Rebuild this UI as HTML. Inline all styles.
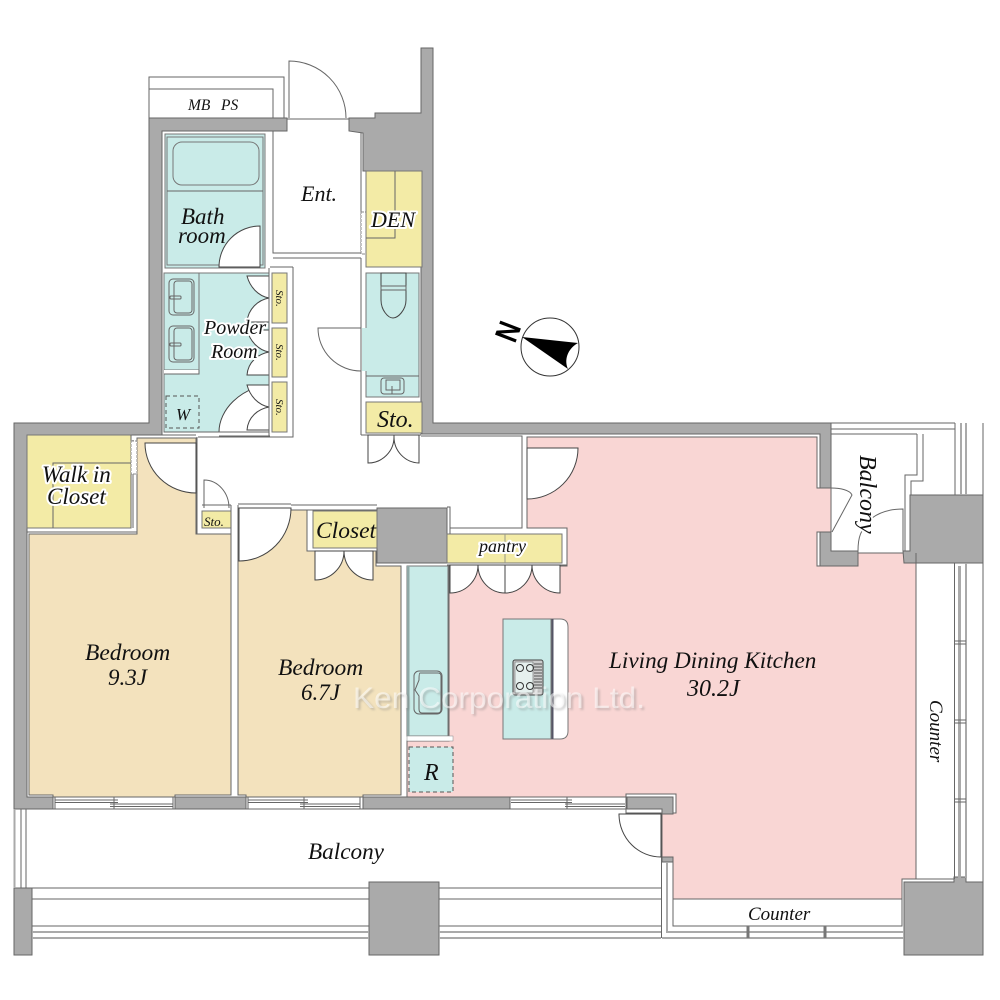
<!DOCTYPE html>
<html><head><meta charset="utf-8"><style>
html,body{margin:0;padding:0;background:#fff}
svg{display:block}
text{font-family:"Liberation Serif",serif;font-style:italic;fill:#111}
.h{paint-order:stroke;stroke:#fff;stroke-width:4px;stroke-linejoin:round}
.w{fill:#aaaaaa;stroke:#666;stroke-width:1}
.l{fill:none;stroke:#666;stroke-width:1}
.d{fill:#fff;stroke:#444;stroke-width:1}
.g{fill:none;stroke:#aaa;stroke-width:2}
.t{fill:#c9ebe8;stroke:#777;stroke-width:1}
.y{fill:#f3eba6;stroke:#777;stroke-width:1}
.m{font-family:"Liberation Sans",sans-serif;font-style:normal}
</style></head><body>
<svg width="1000" height="1000" viewBox="0 0 1000 1000" xmlns="http://www.w3.org/2000/svg">
<defs><filter id="b" x="-5%" y="-30%" width="110%" height="160%"><feGaussianBlur stdDeviation="1"/></filter></defs>
<rect width="1000" height="1000" fill="#fff"/>

<!-- room fills -->
<polygon points="527,437 817,437 817,488 831,488 831,532 817,532 817,566 858,566 858,553 916,553 916,879 902,879 902,899 673,899 673,857 662,857 662,813 676,813 676,795 626,795 626,797 407,797 407,741 449,741 449,566 567,566 567,528 527,528" fill="#f9d6d4" stroke="#666" stroke-width="1"/>
<polygon points="29,534 137,534 137,438 196,438 196,534 231,534 231,795 175,795 175,797 53,797 53,795 29,795" fill="#f3e2bd" stroke="#666" stroke-width="1"/>
<polygon points="238,508 291,508 291,510 307,510 307,551 376,551 376,566 401,566 401,795 363,795 363,797 246,797 246,795 238,795" fill="#f3e2bd" stroke="#666" stroke-width="1"/>

<!-- walls -->
<polygon class="w" points="149,118 287,118 287,131 162,131 162,435 27,435 27,797 53,797 53,809 14,809 14,423 149,423"/>
<polygon class="w" points="349,118 375,118 375,113 421,113 421,48 433,48 433,423 831,423 831,488 820,488 820,434 421,434 421,171 363,171 363,133 349,131"/>
<polygon class="w" points="820,532 831,532 831,551 858,551 858,566 820,566"/>
<rect class="w" x="175" y="797" width="71" height="12"/>
<rect class="w" x="363" y="797" width="147" height="12"/>
<rect x="626" y="794" width="50" height="19" fill="#fff" stroke="#666"/>
<polygon class="w" points="627,797 673,797 673,814 662,814 662,809 627,809"/>
<rect class="w" x="377" y="508" width="70" height="55"/>
<rect class="w" x="14" y="888" width="18" height="67"/>
<rect class="w" x="369" y="882" width="70" height="73"/>
<polygon class="w" points="910,495 983,495 983,563 904,563 903,551 910,551"/>
<polygon class="w" points="904,882 954,882 954,877 966,877 966,882 983,882 983,955 904,955"/>

<!-- MB PS -->
<polyline class="l" points="149,118 149,77 284,77 284,118"/>
<polyline class="l" points="149,89 273,89 273,118"/>

<!-- entrance -->
<path class="l" d="M289,118V61A57,57 0 0 1 346,118"/>
<path class="l" d="M287,119H349M273,131V253H361M273,258H361M287,131H273"/>
<path class="l" d="M361,133V253M361,258V435"/>
<rect x="361" y="212" width="5" height="42" fill="#fff" stroke="#888" stroke-dasharray="3 1"/>
<path class="l" d="M361,258V267M293,267V437H198M270,267H293M361,435H421"/>

<!-- bath -->
<rect class="t" x="165" y="134" width="100" height="134"/>
<rect class="t" x="167" y="137" width="96" height="128"/>
<rect class="t" x="173" y="142" width="86" height="43" rx="9"/>
<path class="l" d="M167,191H263"/>
<path class="d" d="M260,226A41,41 0 0 0 219,267H260Z"/>

<!-- powder -->
<rect class="t" x="164" y="273" width="105" height="159"/>
<rect class="t" x="164" y="273" width="35" height="97"/>
<rect x="164" y="370" width="35" height="4" fill="#fff"/>
<path class="l" d="M164,374H199V370"/>
<rect class="l" x="169" y="279" width="25" height="36" rx="4"/>
<rect class="l" x="174" y="281" width="18" height="32" rx="3"/>
<rect class="l" x="170" y="296" width="11" height="3" rx="1"/>
<rect class="l" x="169" y="326" width="25" height="36" rx="4"/>
<rect class="l" x="174" y="328" width="18" height="32" rx="3"/>
<rect class="l" x="170" y="343" width="11" height="3" rx="1"/>
<rect x="166" y="396" width="33" height="32" fill="none" stroke="#555" stroke-dasharray="4 3"/>
<path class="d" d="M269,385C240,388 219,410 219,432H269Z"/>
<path class="d" d="M247,276C250,287 258,296 269,298L269,276Z"/>
<path class="d" d="M247,322C248,309 258,300 269,298L269,322Z"/>
<path class="d" d="M247,330C250,341 258,350 269,352L269,330Z"/>
<path class="d" d="M247,375C248,362 258,354 269,352L269,375Z"/>
<path class="d" d="M247,385C250,396 258,405 269,407L269,385Z"/>
<path class="d" d="M247,430C248,417 258,409 269,407L269,430Z"/>
<rect class="y" x="272" y="273" width="15" height="50"/>
<rect class="y" x="272" y="328" width="15" height="49"/>
<rect class="y" x="272" y="382" width="15" height="50"/>
<path class="l" d="M269,268V436M219,436H270M164,432H269"/>

<!-- den -->
<rect class="y" x="366" y="171" width="56" height="96"/>
<path class="l" d="M395,171V238H366"/>

<!-- toilet -->
<rect class="t" x="366" y="273" width="53" height="124"/>
<rect x="362" y="328" width="5" height="43" fill="#c9ebe8"/>
<path class="l" d="M366,376H419"/>
<path class="d" style="fill:#c9ebe8" d="M381,273H406V300C406,310 398,318 393,318C388,318 381,310 381,300Z"/>
<rect class="l" x="381" y="286" width="25" height="4"/>
<rect class="l" x="381" y="378" width="23" height="16" rx="3"/>
<rect class="l" x="386" y="380" width="14" height="10"/>
<path class="l" d="M392,386V394"/>
<path class="l" d="M361,328H318A43,43 0 0 0 361,371"/>

<!-- sto -->
<rect class="y" x="366" y="402" width="56" height="31"/>
<path class="d" d="M368,435V463A26,26 0 0 0 394,437V435Z"/>
<path class="d" d="M419,435V463A26,26 0 0 1 394,437V435Z"/>

<!-- walk in closet -->
<rect class="y" x="27" y="435" width="104" height="93"/>
<path class="l" d="M53,528V463H131"/>
<path class="l" d="M27,532H137M131,435V528M137,435H196M197,437V534M133,440V528"/>
<rect x="131" y="441" width="6" height="33" fill="#fff" stroke="#888" stroke-dasharray="3 1"/>
<path class="d" d="M145,443H196V493A51,50 0 0 1 145,443Z"/>

<!-- small sto -->
<rect class="y" x="202" y="511" width="29" height="17"/>
<path class="l" d="M204,508V480A25,28 0 0 1 229,508"/>
<path class="l" d="M196,534H231M202,505H231M238,505V795M231,505V534M238,504H291"/>

<!-- bed 2 door -->
<path class="d" d="M239,508H291A52,53 0 0 1 239,561Z"/>
<path class="l" d="M291,505H377M307,510H377"/>

<!-- closet -->
<rect class="y" x="313" y="511" width="64" height="37"/>
<path class="d" d="M315,551V580A29,29 0 0 0 344,551Z"/>
<path class="d" d="M373,551V580A29,29 0 0 1 344,551Z"/>

<!-- hall upper -->
<path class="l" d="M421,436H522V528H450V507H447M522,437V447M522,500V528M527,500V528"/>
<path class="d" d="M527,448H578A51,51 0 0 1 527,499Z"/>

<!-- pantry -->
<rect class="y" x="447" y="534" width="115" height="29"/>
<path d="M505,534V563" stroke="#998" stroke-width="1"/>
<path class="l" d="M450,528V534M447,565H567"/>
<path class="d" d="M450,565V593A28,28 0 0 0 478,565Z"/>
<path class="d" d="M505,593A27,28 0 0 1 478,565H505Z"/>
<path class="d" d="M505,593A27,28 0 0 0 532,565H505Z"/>
<path class="d" d="M560,565V593A28,28 0 0 1 532,565Z"/>

<!-- kitchen -->
<rect class="t" x="407" y="566" width="41" height="170"/>
<rect x="407" y="566" width="2.500" height="170" fill="#8fa7a5"/>
<rect x="407" y="736" width="46" height="5" fill="#fff" stroke="#888" stroke-width="0.500"/>
<rect x="414" y="671" width="28" height="43" rx="5" class="l"/>
<path class="l" d="M420,673H438Q441,673 441,676V709Q441,713 438,713H422Q419,713 419,709V696L415,690L419,680Q419,673 420,673Z"/>
<rect x="409" y="747" width="44" height="45" fill="#c9ebe8" stroke="#555" stroke-dasharray="4 3"/>
<path d="M503,619H560Q568,619 568,627V731Q568,739 560,739H503Z" fill="#fff" stroke="#777"/>
<rect x="503" y="619" width="48" height="120" fill="#c9ebe8" stroke="#777"/>
<path d="M552.500,619V739" stroke="#556" stroke-width="2"/>
<rect x="513" y="660" width="30" height="35" rx="2" fill="#ccc" stroke="#444"/>
<rect x="515" y="662" width="18" height="31" fill="#e6f0ee" stroke="#555" stroke-width=".5"/>
<g fill="none" stroke="#333"><circle cx="520" cy="668" r="3.500"/><circle cx="530" cy="668" r="3.500"/><circle cx="520" cy="686" r="3.500"/><circle cx="530" cy="686" r="3.500"/></g>
<path d="M534,664H542M534,667H542M534,670H542M534,673H542M534,676H542M534,679H542M534,682H542M534,685H542M534,688H542" stroke="#555"/>

<!-- bottom windows -->
<path class="l" d="M53,809H175M246,809H363M510,809H662"/>
<path class="l" d="M55,800H118M55,802.500H118M110,804H173M110,806.500H173M114,797V809M173,797V809M248,800H308M248,802.500H308M300,804H360M300,806.500H360M304,797V809M360,797V809M248,797V809M55,797V809"/>
<path class="l" d="M511,800H572M511,802.500H572M565,804H625M565,806.500H625M567,797V809"/>

<!-- balcony rails -->
<path class="g" d="M14.500,809V888"/>
<path class="l" d="M21,809V888M26,809V888"/>
<path class="l" d="M32,888H369M32,899H369M32,926H369M439,888H661M439,899H661M439,926H661"/>
<path class="g" d="M32,932H369M32,938H369M439,932H661M439,938H661"/>
<path class="l" d="M661.500,813V938"/>
<path class="d" d="M619,814V815A42,43 0 0 0 661,857V814Z"/>
<rect x="662" y="857" width="11" height="5" fill="#aaa" stroke="#666"/>

<!-- counter bottom -->
<path class="g" d="M667,862V932H904"/>
<path class="l" d="M673,862V926H902V879H954"/>
<path class="g" d="M662,938H904"/>
<path d="M748,926V938M825,926V938" stroke="#777" stroke-width="3"/>

<!-- right side -->
<path class="l" d="M916,553V879M954.500,563V879M983,563V882M983,423V495"/>
<rect x="958" y="566" width="3" height="312" fill="#aaa"/>
<path class="g" d="M966,563V878"/>
<path class="l" d="M955,641H966M955,644H966M955,720H966M955,723H966M955,799H966M955,802H966"/>

<!-- upper right balcony -->
<path class="l" d="M831,423H955M831,429H955M831,434H917M917,434V475H905V551M923,434V481H911V495M955,423V495"/>
<path class="g" d="M961,423V495M966,423V495"/>
<path class="l" d="M831,488C840,488 850,490 852,495L832,532"/>
<path class="l" d="M858,551C858,535 862,530 866,526M872,518C880,512 890,509 903,509V551M858,553H903"/>

<!-- compass -->
<circle cx="550" cy="347" r="29" fill="#fff" stroke="#333" stroke-width="1"/>
<path d="M522,337L578,343C570,347 563,358 568,369Z" fill="#000"/>

<!-- watermark -->
<text class="m" x="355" y="710" font-size="30" style="fill:#777;opacity:.35" filter="url(#b)" textLength="292" lengthAdjust="spacingAndGlyphs">Ken Corporation Ltd.</text>
<text class="m" x="353" y="708" font-size="30" style="fill:#fff;opacity:.55" textLength="292" lengthAdjust="spacingAndGlyphs">Ken Corporation Ltd.</text>

<!-- labels -->
<text x="188" y="110" font-size="15.500">MB</text>
<text x="221" y="110" font-size="15.500">PS</text>
<text x="301" y="201" font-size="22">Ent.</text>
<text x="181" y="224" font-size="23">Bath</text>
<text x="178" y="243" font-size="23">room</text>
<text class="h" x="371" y="227" font-size="22">DEN</text>
<text class="h" x="204" y="334" font-size="20">Powder</text>
<text class="h" x="211" y="358" font-size="20">Room</text>
<text x="176" y="420" font-size="17">W</text>
<text x="377" y="427" font-size="24">Sto.</text>
<text font-size="11" transform="translate(276,290) rotate(90)">Sto.</text>
<text font-size="11" transform="translate(276,344) rotate(90)">Sto.</text>
<text font-size="11" transform="translate(276,399) rotate(90)">Sto.</text>
<text class="h" x="42" y="482" font-size="23">Walk in</text>
<text class="h" x="47" y="504" font-size="23">Closet</text>
<text x="204" y="526" font-size="13">Sto.</text>
<text x="316" y="538" font-size="23.500">Closet</text>
<text class="h" x="479" y="552" font-size="18">pantry</text>
<text x="85" y="660" font-size="23.500">Bedroom</text>
<text x="108" y="685" font-size="23">9.3J</text>
<text x="278" y="675" font-size="23.500">Bedroom</text>
<text x="301" y="700" font-size="23">6.7J</text>
<text x="609" y="668" font-size="23.200">Living Dining Kitchen</text>
<text x="687" y="696" font-size="24">30.2J</text>
<text x="424" y="780" font-size="24">R</text>
<text x="308" y="859" font-size="23.200">Balcony</text>
<text font-size="19" x="748" y="920">Counter</text>
<text font-size="19" transform="translate(930,700) rotate(90)">Counter</text>
<text class="h" font-size="24" transform="translate(860,455) rotate(90)">Balcony</text>
<text class="m" font-size="32" font-weight="bold" style="fill:#000" transform="translate(501,319) rotate(111) scale(.8,1)">N</text>
</svg>
</body></html>
